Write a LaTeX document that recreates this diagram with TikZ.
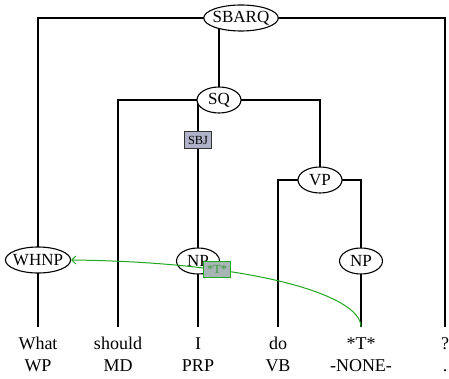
\documentclass[tikz,border=0pt]{standalone}
\usepackage{fontspec}
\setmainfont{Liberation Serif}
\usetikzlibrary{shapes.geometric,arrows.meta,backgrounds}
\definecolor{boxfill}{RGB}{176,178,202}
\definecolor{tfill}{RGB}{168,180,182}
\definecolor{trace}{RGB}{30,168,30}
\definecolor{tracetext}{RGB}{50,160,50}
\tikzset{
  cat/.style={ellipse, draw=black, line width=1.1pt, fill=white, inner xsep=-2pt, inner ysep=0pt,
    minimum width=44pt, minimum height=26pt, font=\fontsize{17}{19}\selectfont},
  word/.style={anchor=base, inner xsep=0pt, inner ysep=9.5pt, text height=12.5pt, text depth=4pt,
    font=\fontsize{18}{20}\selectfont},
  tag/.style={anchor=base, inner sep=0pt, font=\fontsize{18}{20}\selectfont},
  edge/.style={draw=black, line width=1.1pt},
  sbjbox/.style={draw=black!80, line width=0.9pt, fill=boxfill, rectangle, inner xsep=3.5pt, inner ysep=0pt,
    minimum height=17pt, font=\fontsize{12.4}{13}\selectfont},
  tracebox/.style={draw=trace, line width=1pt, fill=tfill, text=tracetext, rectangle, inner xsep=3.5pt, inner ysep=0pt,
    minimum height=16pt, font=\fontsize{12.4}{13}\selectfont},
  tracearrow/.style={draw=trace, line width=1pt, -{Straight Barb[length=4pt,width=8pt]}}
}
\begin{document}
\begin{tikzpicture}[x=1pt,y=-1pt]
\useasboundingbox (0,0) rectangle (449,379);
% phrase nodes
\node[cat] (sbarq) at (241,18) {SBARQ};
\node[cat] (sq) at (219,100) {SQ};
\node[cat] (vp) at (320,180) {VP};
\node[cat] (whnp) at (38,260) {WHNP};
\node[cat, minimum width=43pt] (np1) at (198,261) {NP};
\node[cat, minimum width=43pt] (np2) at (361,261) {NP};
% words
\node[word] (w1) at (38,349) {What};
\node[word] (w2) at (118,349) {should};
\node[word] (w3) at (198,349) {I};
\node[word] (w4) at (278,349) {do};
\node[word] (w5) at (361,349) {*T*};
\node[word] (w6) at (445,349) {?};
% tags
\node[tag] (t1) at (38,371) {WP};
\node[tag] (t2) at (118,371) {MD};
\node[tag] (t3) at (198,371) {PRP};
\node[tag] (t4) at (278,371) {VB};
\node[tag] (t5) at (361,371) {-NONE-};
\node[tag] (t6) at (445,371) {.};
\begin{scope}[on background layer]
  \draw[edge] (whnp.center) |- (sbarq.center) -| (w6.north);
  \draw[edge] (sq.center) -- (sq.center |- sbarq.center);
  \draw[edge] (w2.north) |- (sq.center) -| (vp.center);
  \draw[edge] (w4.north) |- (vp.center) -| (np2.center);
  \draw[edge] (whnp.center) -- (w1.north);
  \draw[edge] (np1.center) -- (w3.north);
  \draw[edge] (np2.center) -- (w5.north);
  \draw[edge] (np1.center) -- (np1.center |- sq.center);
\end{scope}
\path (np1.center) -- node[sbjbox, pos=0.75] (sbj) {SBJ} (np1.center |- sq.center);
\draw[tracearrow] (w5.north) .. controls +(0,-32) and +(180,2) .. node[tracebox, pos=0.69] (tr) {*T*} (whnp.east);
\end{tikzpicture}
\end{document}
